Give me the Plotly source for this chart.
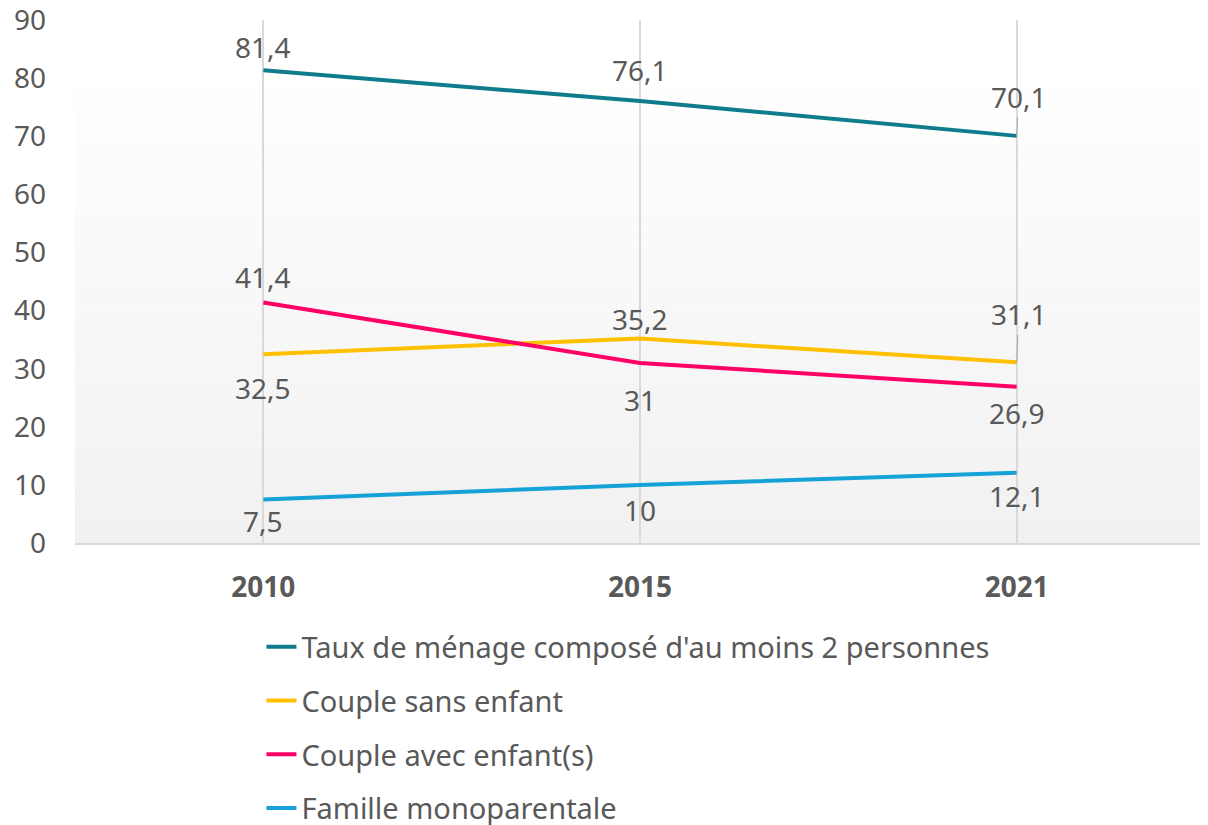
import plotly.graph_objects as go

years = ["2010", "2015", "2021"]
series_names = [
    "Taux de ménage composé d'au moins 2 personnes",
    "Couple sans enfant",
    "Couple avec enfant(s)",
    "Famille monoparentale",
]
taux = [81.4, 76.1, 70.1]
sans_enfant = [32.5, 35.2, 31.1]
avec_enfants = [41.4, 31.0, 26.9]
monoparentale = [7.5, 10.0, 12.1]
y_ticks = [0, 10, 20, 30, 40, 50, 60, 70, 80, 90]

colors = ["#0E7C8B", "#FFC000", "#FF0066", "#16A1D9"]
# label vertical pixel offsets (negative = above) and leader flags
label_dy = [
    [-23, -31, -39],
    [34, -20, -48],
    [-26, 37, 26],
    [22, 25, 23],
]
leader = [
    [False, False, True],
    [False, False, True],
    [False, False, False],
    [False, False, False],
]

FONT = "Noto Sans"
TXT = "#595959"
FS = 28

fig = go.Figure()
all_vals = [taux, sans_enfant, avec_enfants, monoparentale]
for i, (name, vals) in enumerate(zip(series_names, all_vals)):
    fig.add_trace(go.Scatter(
        x=years, y=vals, mode="lines", name=name,
        line=dict(color=colors[i], width=4),
        legendgroup=f"g{i}", hoverinfo="skip",
    ))

def fmt(v):
    s = ("%.1f" % v).rstrip("0").rstrip(".")
    return s.replace(".", ",")

annotations = []
for i, vals in enumerate(all_vals):
    for j, v in enumerate(vals):
        xi = j  # category index of years[j]
        if leader[i][j]:
            annotations.append(dict(
                x=xi, y=v, xref="x", yref="y", text=fmt(v),
                showarrow=True, arrowhead=0, arrowwidth=1, arrowcolor="#A6A6A6",
                ax=2, ay=label_dy[i][j], standoff=0,
                font=dict(family=FONT, size=FS, color=TXT),
            ))
        else:
            annotations.append(dict(
                x=xi, y=v, xref="x", yref="y", text=fmt(v),
                showarrow=False, yshift=-label_dy[i][j],
                font=dict(family=FONT, size=FS, color=TXT),
            ))

# gradient background
shapes = []
n = 40
top = 78.3
for k in range(n):
    y0 = top * k / n
    y1 = top * (k + 1) / n
    t = (k + 0.5) / n
    c = int(round(241 + (254 - 241) * t))
    shapes.append(dict(type="rect", xref="paper", yref="y", x0=0, x1=1, y0=y0, y1=y1,
                       fillcolor=f"rgb({c},{c},{c})", line=dict(width=0), layer="below"))

fig.update_layout(
    width=1200, height=817,
    margin=dict(l=67, r=3, t=12, b=282, autoexpand=False),
    paper_bgcolor="white", plot_bgcolor="white",
    font=dict(family=FONT, size=FS, color=TXT),
    annotations=annotations, shapes=shapes,
    showlegend=True,
    legend=dict(
        orientation="v", xref="paper", yref="paper",
        x=0.165, y=-0.150, xanchor="left", yanchor="top",
        font=dict(family=FONT, size=29, color=TXT),
        tracegroupgap=13, itemwidth=30, bgcolor="rgba(0,0,0,0)",
    ),
    xaxis=dict(
        type="category", range=[-0.5, 2.5], showgrid=True, gridcolor="#D9D9D9", gridwidth=1.5,
        showline=True, linecolor="#D9D9D9", linewidth=2, ticks="", zeroline=False,
        tickfont=dict(family=FONT, size=FS, color=TXT, weight="bold"),
        ticklabelstandoff=18,
    ),
    yaxis=dict(
        range=[0, 90.05], tickvals=y_ticks, ticktext=[str(t) for t in y_ticks],
        showgrid=False, zeroline=False, showline=False, ticks="",
        ticklabeloverflow="allow",
        tickfont=dict(family=FONT, size=FS, color=TXT), ticklabelstandoff=28,
    ),
)

fig.write_html("out.html")
